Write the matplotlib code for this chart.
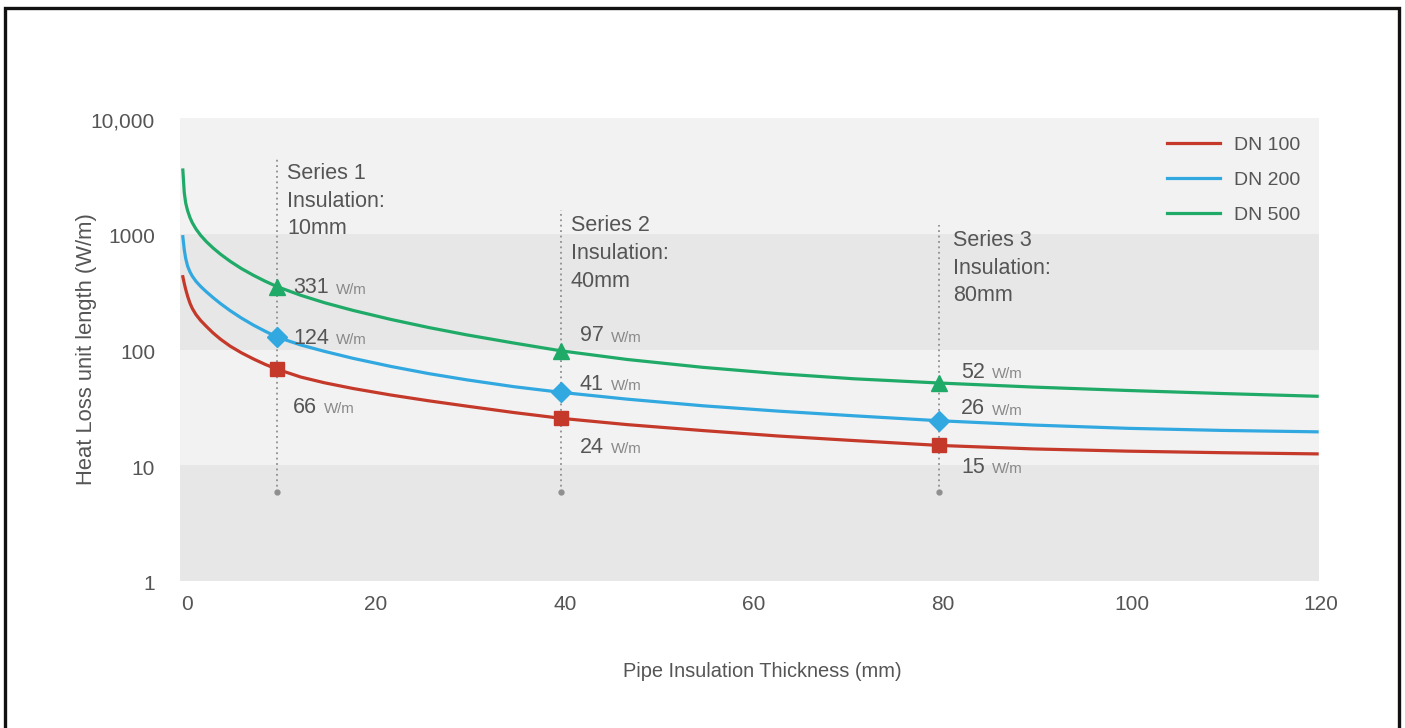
import matplotlib
matplotlib.use("Agg")
import matplotlib.pyplot as plt
from matplotlib.patches import Rectangle
from matplotlib.transforms import ScaledTranslation

# ---------------- data ----------------
thickness = [0, 0.15, 0.3, 0.5, 0.75, 1.0, 1.4, 1.9, 2.5, 3.2, 4, 5, 6.2, 7.5, 8.7, 10,
             12.5, 15, 18, 22, 26, 30, 35, 40, 47, 55, 63, 71, 80, 90, 100, 110, 120]
dn100 = [426, 373, 332, 290, 252, 226.5, 200, 177.6, 158, 139, 122.5, 107, 93.6, 82.6, 74.4, 67.4,
         57.7, 51.5, 46, 40.4, 36, 32.4, 28.5, 25.4, 22.4, 19.9, 17.85, 16.3, 14.8, 13.8, 13.2, 12.8, 12.5]
dn200 = [946, 730, 614, 528, 470, 431, 388, 350, 315, 281, 249, 217, 187, 162, 144, 127.8,
         109.3, 96.3, 83.9, 71.4, 61.9, 54.7, 47.7, 42.6, 37.2, 32.6, 29.3, 26.7, 24.2, 22.2, 20.8, 19.95, 19.4]
dn500 = [3570, 2280, 1854, 1592, 1387, 1250, 1099, 968, 855, 755, 666, 580, 501, 437, 390, 349,
         294, 253.7, 217.9, 182.1, 155, 134, 113.8, 97.4, 82.0, 70.1, 61.8, 55.8, 51.3, 47.3, 44.2, 41.6, 39.4]

series_x = [10, 40, 80]
series_names = ["Series 1", "Series 2", "Series 3"]
series_insulation = ["10mm", "40mm", "80mm"]

mark_dn100 = [67.4, 25.4, 14.8]
mark_dn200 = [127.8, 42.6, 24.2]
mark_dn500 = [349, 97.4, 51.3]
label_dn100 = ["66", "24", "15"]
label_dn200 = ["124", "41", "26"]
label_dn500 = ["331", "97", "52"]

legend_names = ["DN 100", "DN 200", "DN 500"]
x_ticks = [0, 20, 40, 60, 80, 100, 120]
y_ticks = [1, 10, 100, 1000, 10000]
y_tick_labels = ["1", "10", "100", "1000", "10,000"]

# ---------------- layout / style ----------------
RED, BLUE, GREEN = "#c4392a", "#32a8e0", "#1faa68"
TXT = "#555555"
LIGHT = "#888888"
guide_top = [4540, 1607, 1194]
guide_bottom = 5.85
# pixel offsets of value labels from their markers
label_dx = [16, 19, 22]
off_red = [-38, -29, -22]
off_blue = [-1, 8, 12]
off_green = [-1, 15, 11]
title_dx = [10, 10, 14]

plt.rcParams['font.family'] = ['Liberation Sans', 'DejaVu Sans']

fig = plt.figure(figsize=(14.05, 7.28), dpi=100)
ax = fig.add_axes([180 / 1405, (728 - 580.7) / 728, (1319 - 180) / 1405, (580.7 - 118.3) / 728])
ax.set_yscale('log')
ax.set_ylim(1, 10000)
ax.set_xlim(-0.3, 120.2)

bands = [(1, 10, '#e6e7e6'), (10, 100, '#f2f2f2'), (100, 1000, '#e6e7e6'), (1000, 10000, '#f2f2f2')]
for lo, hi, c in bands:
    ax.axhspan(lo, hi, color=c, lw=0, zorder=0)

for s in ax.spines.values():
    s.set_visible(False)

ax.set_xticks(x_ticks)
ax.set_xticklabels([str(v) for v in x_ticks])
ax.set_yticks(y_ticks)
ax.set_yticklabels(y_tick_labels)
ax.minorticks_off()
ax.tick_params(axis='both', length=0, labelsize=15, labelcolor=TXT)
ax.tick_params(axis='y', pad=18)
ax.tick_params(axis='x', pad=10)
shift = ScaledTranslation(4 / 100, 0, fig.dpi_scale_trans)
for lab in ax.get_xticklabels():
    lab.set_transform(lab.get_transform() + shift)
yshift = ScaledTranslation(0, -2 / 100, fig.dpi_scale_trans)
for lab in ax.get_yticklabels():
    lab.set_transform(lab.get_transform() + yshift)

ax.set_xlabel("Pipe Insulation Thickness (mm)", fontsize=14.4, color=TXT)
ax.xaxis.set_label_coords((762 - 180) / 1139, (580.7 - 662) / 462.4)
ax.set_ylabel("Heat Loss unit length (W/m)", fontsize=15.8, color=TXT)
ax.yaxis.set_label_coords((97 - 180) / 1139, 0.5)

# guide lines
for sx, top in zip(series_x, guide_top):
    ax.plot([sx, sx], [guide_bottom, top], ls=(0, (1, 2)), color='#8f8f8f', lw=1.3, zorder=2)
    ax.plot([sx], [guide_bottom], marker='o', ms=3.5, color='#8f8f8f', zorder=2)

# curves
ax.plot(thickness, dn100, color=RED, lw=2.3, label=legend_names[0], zorder=3)
ax.plot(thickness, dn200, color=BLUE, lw=2.3, label=legend_names[1], zorder=3)
ax.plot(thickness, dn500, color=GREEN, lw=2.3, label=legend_names[2], zorder=3)

# markers
ax.plot(series_x, mark_dn100, ls='none', marker='s', ms=9.5, color=RED, zorder=4)
ax.plot(series_x, mark_dn200, ls='none', marker='D', ms=10, color=BLUE, zorder=4)
ax.plot(series_x, mark_dn500, ls='none', marker='^', ms=11.5, color=GREEN, zorder=4)

# value labels
def value_label(x, y, txt, dx, dy):
    t = ax.annotate(txt, xy=(x, y), xytext=(dx, dy), textcoords='offset pixels',
                    fontsize=15.5, color=TXT, va='center', ha='left', zorder=5)
    ax.annotate("W/m", xy=(1, 0), xycoords=t, xytext=(7, 1.5), textcoords='offset pixels',
                fontsize=10.8, color=LIGHT, va='bottom', ha='left', zorder=5)

for i, sx in enumerate(series_x):
    value_label(sx, mark_dn500[i], label_dn500[i], label_dx[i], off_green[i])
    value_label(sx, mark_dn200[i], label_dn200[i], label_dx[i], off_blue[i])
    value_label(sx, mark_dn100[i], label_dn100[i], label_dx[i], off_red[i])

# series titles
for sx, top, name, ins, dx in zip(series_x, guide_top, series_names, series_insulation, title_dx):
    ax.annotate(f"{name}\nInsulation:\n{ins}", xy=(sx, top), xytext=(dx, -5),
                textcoords='offset pixels', fontsize=15.5, color=TXT,
                va='top', ha='left', linespacing=1.42, zorder=5)

leg = ax.legend(loc='upper right', bbox_to_anchor=((1300 - 180) / 1139, 1 - (136 - 118.3) / 462.4),
                frameon=False, fontsize=14, handlelength=2.7, handletextpad=0.72,
                labelspacing=0.9, borderaxespad=0, borderpad=0)
for t in leg.get_texts():
    t.set_color(TXT)

fig.add_artist(Rectangle((5 / 1405, -0.02), (1399 - 5) / 1405, 1 - 8 / 728 + 0.02,
                         transform=fig.transFigure, fill=False, ec='#111111', lw=2.4,
                         clip_on=False))

fig.savefig("out.png", dpi=100)
